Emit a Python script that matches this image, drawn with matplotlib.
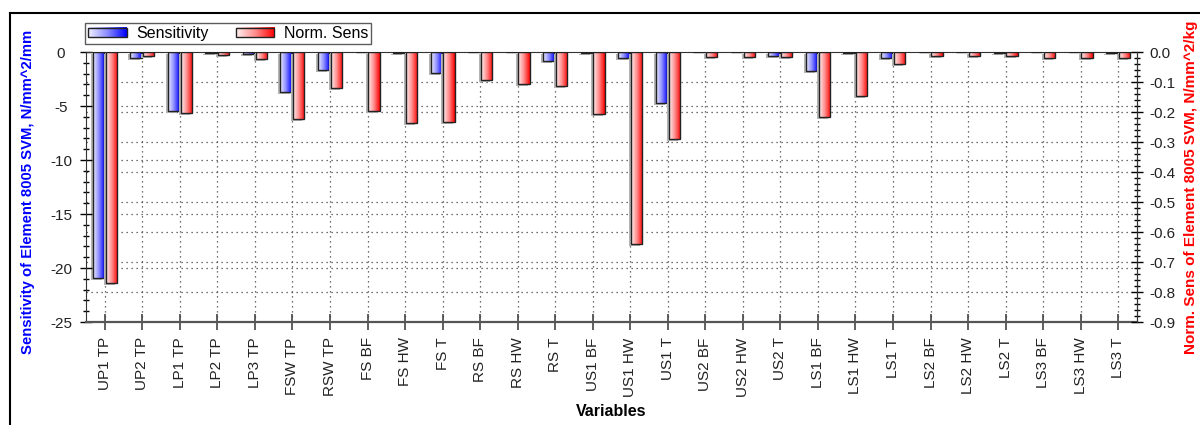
import numpy as np
import matplotlib

matplotlib.use("Agg")
import matplotlib.pyplot as plt
from matplotlib.colors import LinearSegmentedColormap
from matplotlib.image import BboxImage
from matplotlib.legend_handler import HandlerBase
from matplotlib.lines import Line2D
from matplotlib.patches import Rectangle
from matplotlib.ticker import MultipleLocator, FormatStrFormatter
from matplotlib.transforms import Bbox, TransformedBbox, offset_copy, blended_transform_factory

plt.rcParams["font.family"] = ["Liberation Sans", "DejaVu Sans"]
plt.rcParams["axes.unicode_minus"] = False

categories = [
    "UP1 TP", "UP2 TP", "LP1 TP", "LP2 TP", "LP3 TP", "FSW TP", "RSW TP",
    "FS BF", "FS HW", "FS T", "RS BF", "RS HW", "RS T",
    "US1 BF", "US1 HW", "US1 T", "US2 BF", "US2 HW", "US2 T",
    "LS1 BF", "LS1 HW", "LS1 T", "LS2 BF", "LS2 HW", "LS2 T",
    "LS3 BF", "LS3 HW", "LS3 T",
]

# sensitivity, N/mm^2/mm (left axis)
sensitivity = [
    -20.9, -0.53, -5.43, -0.12, -0.21, -3.67, -1.67,
    -0.03, -0.05, -1.91, 0.0, 0.0, -0.83,
    -0.12, -0.53, -4.75, 0.0, -0.03, -0.34,
    -1.73, -0.05, -0.53, 0.0, 0.0, -0.05,
    0.0, 0.0, -0.05,
]

# normalised sensitivity, N/mm^2/kg (right axis)
norm_sens = [
    -0.769, -0.013, -0.202, -0.010, -0.023, -0.223, -0.121,
    -0.197, -0.236, -0.232, -0.093, -0.108, -0.112,
    -0.207, -0.641, -0.291, -0.016, -0.016, -0.016,
    -0.216, -0.147, -0.041, -0.012, -0.012, -0.012,
    -0.019, -0.019, -0.019,
]

left_ticks = [0, -5, -10, -15, -20, -25]
right_ticks = [0.0, -0.1, -0.2, -0.3, -0.4, -0.5, -0.6, -0.7, -0.8, -0.9]

blue_cmap = LinearSegmentedColormap.from_list("blu", ["#f0f0ff", "#8c8cff", "#0000ff"])
red_cmap = LinearSegmentedColormap.from_list("rd", ["#fff0f0", "#ff8c8c", "#ff0000"])
grad = np.linspace(0, 1, 64).reshape(1, -1)

BAR_W = 0.3
OFF = 0.17
TICK_COL = "#222222"
GRID_KW = dict(color="#444444", linestyle=(0, (1, 3)), linewidth=0.9, zorder=0.5)

fig = plt.figure(figsize=(12, 4.25), dpi=100)
ax = fig.add_axes([86 / 1200, 1 - 322 / 425, 1051 / 1200, 270 / 425])
ax2 = ax.twinx()
ax2.patch.set_visible(False)

x = np.arange(len(categories))


def gradient_bars(axis, xpos, vals, cmap):
    # drop shadow, then gradient fill, then the outline
    shadow_tr = offset_copy(axis.transData, fig=fig, x=-2, y=-2, units="dots")
    axis.bar(xpos, vals, BAR_W, align="center", color="#b4b4b4",
             linewidth=0, transform=shadow_tr, zorder=1)
    for xi, v in zip(xpos, vals):
        if v == 0:
            continue
        axis.imshow(grad, cmap=cmap, aspect="auto", interpolation="bilinear",
                    extent=[xi - BAR_W / 2, xi + BAR_W / 2, v, 0], zorder=2)
    axis.bar(xpos, vals, BAR_W, align="center", facecolor="none",
             edgecolor="#222222", linewidth=1.0, zorder=3)


# grid: left-axis majors, right-axis majors and one line per variable
for v in left_ticks[1:-1]:
    ax.axhline(v, **GRID_KW)
rtrans = blended_transform_factory(ax.transAxes, ax2.transData)
for v in right_ticks[1:-1]:
    ax.plot([0, 1], [v, v], transform=rtrans, **GRID_KW)
for xi in x:
    ax.axvline(xi, **GRID_KW)

gradient_bars(ax, x - OFF, sensitivity, blue_cmap)
gradient_bars(ax2, x + OFF, norm_sens, red_cmap)

ax.set_xlim(-0.5, len(categories) - 0.5)
ax.set_ylim(-25, 0)
ax2.set_ylim(-0.9, 0)

ax.set_xticks(x)
ax.set_xticklabels(categories, rotation=90, fontsize=11, color=TICK_COL)
ax.tick_params(axis="x", direction="inout", length=12, width=1.2,
               color="#444444", pad=5)

ax.set_yticks(left_ticks)
ax.yaxis.set_minor_locator(MultipleLocator(1))
ax.tick_params(axis="y", which="major", direction="inout", length=8, width=1.0,
               labelsize=11, labelcolor=TICK_COL, pad=14)
ax.tick_params(axis="y", which="minor", direction="inout", length=5, width=1.0)
for lbl in ax.get_yticklabels():
    lbl.set_horizontalalignment("center")

ax2.set_yticks(right_ticks)
ax2.yaxis.set_major_formatter(FormatStrFormatter("%.1f"))
ax2.yaxis.set_minor_locator(MultipleLocator(0.02))
ax2.tick_params(axis="y", which="major", direction="inout", length=8, width=1.0,
                labelsize=11, labelcolor=TICK_COL, pad=5)
ax2.tick_params(axis="y", which="minor", direction="inout", length=5, width=1.0)

for s in ax.spines.values():
    s.set_color("#333333")
ax.spines["bottom"].set_color("#555555")
ax.spines["bottom"].set_linewidth(1.6)
for s in ax2.spines.values():
    s.set_visible(False)
ax2.spines["right"].set_visible(True)
ax2.spines["right"].set_color("#333333")

ax.set_ylabel("Sensitivity of Element 8005 SVM, N/mm^2/mm", color="#0000ff",
              fontsize=10.7, fontweight="bold")
ax.yaxis.set_label_coords(-0.0485, 0.48)
ax2.set_ylabel("Norm. Sens of Element 8005 SVM, N/mm^2/kg", color="#ff0000",
               fontsize=11, fontweight="bold")
ax2.yaxis.set_label_coords(1.0445, 0.5)
ax.set_xlabel("Variables", fontsize=11.5, fontweight="bold")
ax.xaxis.set_label_coords(0.5, -0.305)


class GradientHandle(HandlerBase):
    def __init__(self, cmap):
        super().__init__()
        self.cmap = cmap

    def create_artists(self, legend, orig_handle, xdescent, ydescent,
                       width, height, fontsize, trans):
        box = TransformedBbox(Bbox.from_bounds(-xdescent, -ydescent, width, height), trans)
        img = BboxImage(box, cmap=self.cmap, interpolation="bilinear")
        img.set_data(grad)
        frame = Rectangle((-xdescent, -ydescent), width, height, facecolor="none",
                          edgecolor="#222222", linewidth=1.0, transform=trans)
        return [img, frame]


h_blue = Rectangle((0, 0), 1, 1)
h_red = Rectangle((0, 0), 1, 1)
leg = fig.legend([h_blue, h_red], ["Sensitivity", "Norm. Sens"], ncol=2,
                 loc="upper left", bbox_to_anchor=(85 / 1200, 1 - 23 / 425),
                 borderaxespad=0, fontsize=11.5, frameon=True, fancybox=False,
                 handlelength=2.4, handleheight=0.55, handletextpad=0.6,
                 columnspacing=1.7, borderpad=0.2,
                 handler_map={h_blue: GradientHandle(blue_cmap),
                              h_red: GradientHandle(red_cmap)})
leg.get_frame().set_edgecolor("#333333")
leg.get_frame().set_linewidth(1.0)

# outer frame of the chart panel
fig.add_artist(Line2D([10 / 1200, 10 / 1200], [0, 1 - 13 / 425], color="black", lw=1.5))
fig.add_artist(Line2D([10 / 1200, 1], [1 - 13 / 425, 1 - 13 / 425], color="black", lw=1.5))

fig.savefig("out.png", dpi=100)
